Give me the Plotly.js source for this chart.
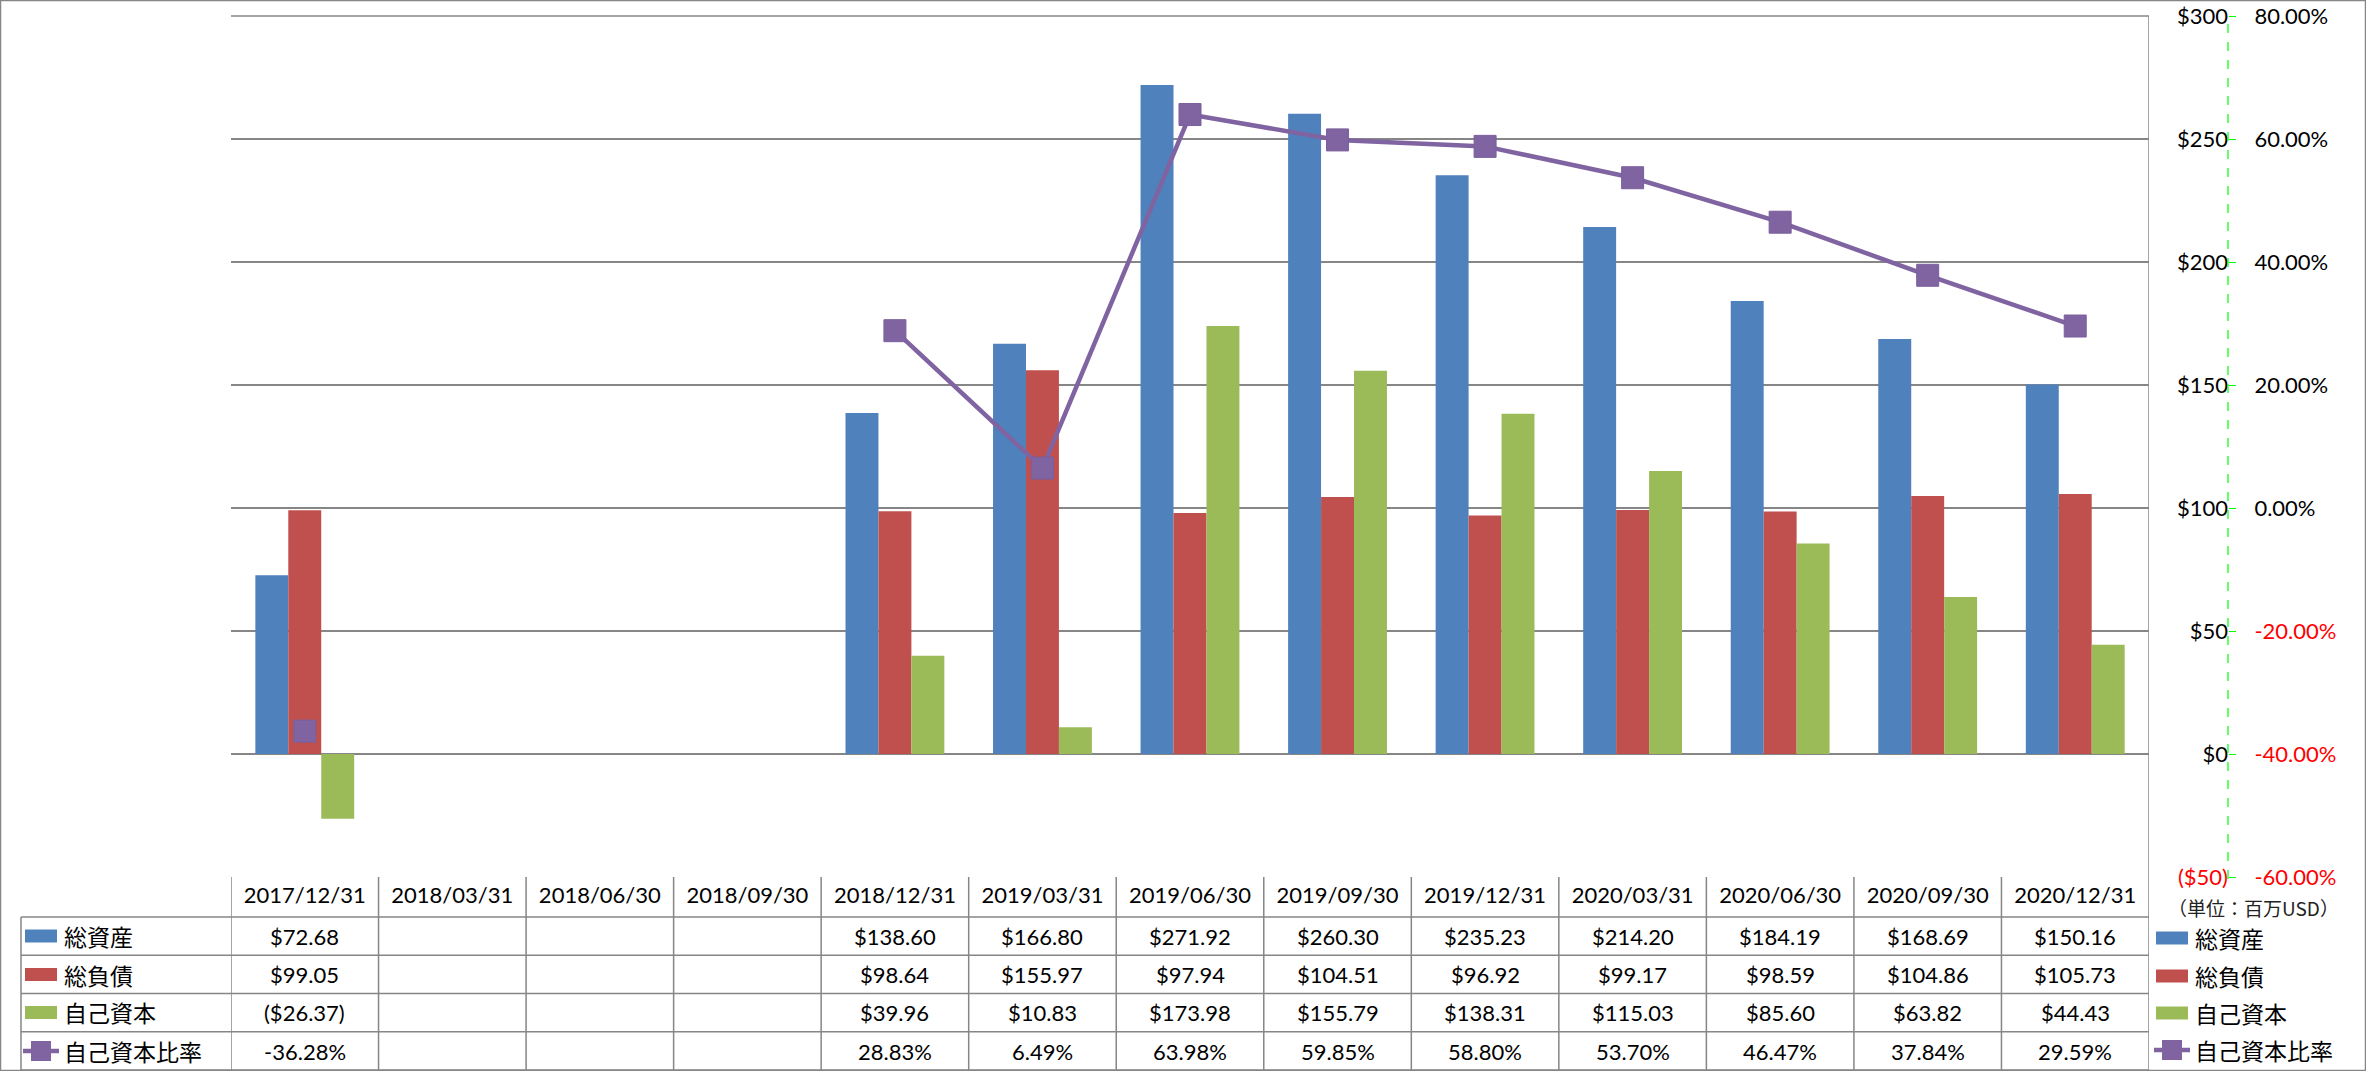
<!DOCTYPE html>
<html>
<head>
<meta charset="utf-8">
<script src="https://cdn.plot.ly/plotly-3.0.1.min.js"></script>
<style>html,body{margin:0;padding:0;background:#fff;}#chart{width:2366px;height:1071px;}</style>
</head>
<body>
<div id="chart"></div>
<script>
// ---- data ----
const categories = ['2017/12/31','2018/03/31','2018/06/30','2018/09/30','2018/12/31','2019/03/31','2019/06/30','2019/09/30','2019/12/31','2020/03/31','2020/06/30','2020/09/30','2020/12/31'];
const totalAssets = [72.68, null, null, null, 138.60, 166.80, 271.92, 260.30, 235.23, 214.20, 184.19, 168.69, 150.16];
const totalLiabilities = [99.05, null, null, null, 98.64, 155.97, 97.94, 104.51, 96.92, 99.17, 98.59, 104.86, 105.73];
const equity = [-26.37, null, null, null, 39.96, 10.83, 173.98, 155.79, 138.31, 115.03, 85.60, 63.82, 44.43];
const equityRatio = [-36.28, null, null, null, 28.83, 6.49, 63.98, 59.85, 58.80, 53.70, 46.47, 37.84, 29.59];
const seriesNames = ['総資産', '総負債', '自己資本', '自己資本比率'];
const unitLabel = '（単位：百万USD）';
const leftTickVals = [-50, 0, 50, 100, 150, 200, 250, 300];
const rightTickVals = [-60, -40, -20, 0, 20, 40, 60, 80];

// ---- styles ----
const colors = ['#4F81BD', '#C0504D', '#9BBB59', '#8064A2'];
const gridColor = '#868686';
const FONT = 'Lato, "Noto Sans CJK JP", sans-serif';
const CJK = '"Noto Sans CJK JP", sans-serif';
const W = 2366, H = 1071;
const M = {l: 231, r: 20, t: 16, b: 194};
const PW = W - M.l - M.r, PH = H - M.t - M.b;
const px = x => (x - M.l) / PW;          // pixel -> paper x
const py = y => (H - M.b - y) / PH;      // pixel -> paper y
const plotRight = 2149;
const axisX = 2228;
const tableTop = H - M.b;

const money = v => v == null ? '' : (v < 0 ? '($' + Math.abs(v).toFixed(2) + ')' : '$' + v.toFixed(2));
const pct = v => v == null ? '' : v.toFixed(2) + '%';
const red = s => '<span style="color:#FF0000">' + s + '</span>';

const traces = [
  {type: 'bar', name: seriesNames[0], x: categories, y: totalAssets, marker: {color: colors[0]}},
  {type: 'bar', name: seriesNames[1], x: categories, y: totalLiabilities, marker: {color: colors[1]}},
  {type: 'bar', name: seriesNames[2], x: categories, y: equity, marker: {color: colors[2]}},
  {type: 'scatter', mode: 'lines+markers', name: seriesNames[3], x: categories, y: equityRatio, yaxis: 'y2',
   connectgaps: false, line: {color: colors[3], width: 4.5},
   marker: {symbol: 'square', size: 22, color: colors[3], line: {width: 1, color: '#7A5F9C'}}}
];

// ---- table geometry ----
const rowLines = [917, 955.3, 993.5, 1031.8, 1070];
const rowCenters = [936, 974.5, 1012.5, 1051];
const tableLeft = 21;
const rowValues = [totalAssets.map(money), totalLiabilities.map(money), equity.map(money), equityRatio.map(pct)];

const shapes = [];
const lineStyle = {color: gridColor, width: 1.5};
// outer border
shapes.push({type: 'rect', xref: 'paper', yref: 'paper', x0: px(0.5), x1: px(W - 0.5), y0: py(0.5), y1: py(H - 0.5), line: lineStyle, layer: 'below'});
// top edge of plot area (the $300 gridline)
shapes.push({type: 'line', xref: 'x', yref: 'paper', x0: -0.5, x1: categories.length - 0.5, y0: 1, y1: 1, line: lineStyle, layer: 'below'});
// horizontal table lines
rowLines.forEach(y => shapes.push({type: 'line', xref: 'paper', yref: 'paper', x0: px(tableLeft), x1: px(plotRight), y0: py(y), y1: py(y), line: lineStyle}));
// left edge of row-label column
shapes.push({type: 'line', xref: 'paper', yref: 'paper', x0: px(tableLeft), x1: px(tableLeft), y0: py(917), y1: py(1070), line: lineStyle});
// vertical column lines at category boundaries
for (let i = 0; i <= categories.length; i++) {
  const last = i === categories.length;
  shapes.push({type: 'line', xref: 'x', yref: 'paper', x0: i - 0.5, x1: i - 0.5,
    y0: last ? 1 : 0, y1: py(1070), line: lineStyle});
}
// green dashed secondary axis line
shapes.push({type: 'line', xref: 'paper', yref: 'paper', x0: px(axisX), x1: px(axisX), y0: py(tableTop + 2), y1: 1, line: {color: '#00FF00', width: 1.2, dash: 'dash'}});

const annotations = [];
// table cells
rowValues.forEach((vals, r) => {
  vals.forEach((t, c) => {
    if (t) annotations.push({xref: 'x', yref: 'paper', x: categories[c], y: py(rowCenters[r]), text: t, showarrow: false,
      xanchor: 'center', yanchor: 'middle', font: {family: FONT, size: 22, color: '#000'}});
  });
});

// legend keys (left in table, right outside)
function legendKey(xStart, yc, idx) {
  if (idx < 3) {
    shapes.push({type: 'rect', xref: 'paper', yref: 'paper', x0: px(xStart), x1: px(xStart + 32), y0: py(yc + 6.5), y1: py(yc - 6.5), fillcolor: colors[idx], line: {width: 0}});
  } else {
    shapes.push({type: 'line', xref: 'paper', yref: 'paper', x0: px(xStart - 2), x1: px(xStart + 34), y0: py(yc), y1: py(yc), line: {color: colors[3], width: 4.5}});
    shapes.push({type: 'rect', xref: 'paper', yref: 'paper', x0: px(xStart + 6), x1: px(xStart + 26), y0: py(yc + 10), y1: py(yc - 10), fillcolor: colors[3], line: {width: 0}});
  }
}
seriesNames.forEach((n, i) => {
  legendKey(25, rowCenters[i], i);
  annotations.push({xref: 'paper', yref: 'paper', x: px(62), y: py(rowCenters[i]), text: n, showarrow: false,
    xanchor: 'left', yanchor: 'middle', font: {family: CJK, size: 23, color: '#000'}});
});
const rightRows = [938, 976, 1013, 1050];
seriesNames.forEach((n, i) => {
  legendKey(2156, rightRows[i], i);
  annotations.push({xref: 'paper', yref: 'paper', x: px(2193), y: py(rightRows[i]), text: n, showarrow: false,
    xanchor: 'left', yanchor: 'middle', font: {family: CJK, size: 23, color: '#000'}});
});
annotations.push({xref: 'paper', yref: 'paper', x: px(2166), y: py(907), text: unitLabel, showarrow: false,
  xanchor: 'left', yanchor: 'middle', font: {family: CJK, size: 19, color: '#222'}});

const layout = {
  width: W, height: H,
  margin: M,
  paper_bgcolor: '#fff', plot_bgcolor: 'rgba(0,0,0,0)',
  showlegend: false,
  barmode: 'group', bargap: 0.33, bargroupgap: 0,
  font: {family: FONT, size: 22, color: '#000'},
  xaxis: {type: 'category', domain: [0, px(plotRight)], categoryorder: 'array', categoryarray: categories,
    range: [-0.5, categories.length - 0.5], autorange: false,
    showgrid: false, zeroline: false, showline: false, ticks: '', tickangle: 0,
    tickfont: {family: FONT, size: 22, color: '#000'}, ticklabelstandoff: 3, fixedrange: true},
  yaxis: {range: [-50, 300], anchor: 'free', position: px(axisX), side: 'left',
    tickmode: 'array', tickvals: leftTickVals,
    ticktext: leftTickVals.map(v => v < 0 ? red('($' + Math.abs(v) + ')') : '$' + v),
    showgrid: true, gridcolor: gridColor, gridwidth: 1.5, zeroline: true, zerolinecolor: gridColor, zerolinewidth: 1.5,
    showline: false, ticks: '', tickfont: {family: FONT, size: 22, color: '#000'}, fixedrange: true},
  yaxis2: {range: [-60, 80], overlaying: 'y', anchor: 'free', position: px(axisX), side: 'right',
    tickmode: 'array', tickvals: rightTickVals,
    ticktext: rightTickVals.map(v => v < 0 ? red(v.toFixed(2) + '%') : v.toFixed(2) + '%'),
    showgrid: false, zeroline: false, showline: false, ticks: 'outside', ticklen: 7, tickcolor: '#00FF00', tickwidth: 1,
    ticklabelstandoff: 14, tickfont: {family: FONT, size: 22, color: '#000'}, fixedrange: true},
  shapes: shapes,
  annotations: annotations
};

Plotly.newPlot('chart', traces, layout, {displayModeBar: false, staticPlot: true});
</script>
</body>
</html>
